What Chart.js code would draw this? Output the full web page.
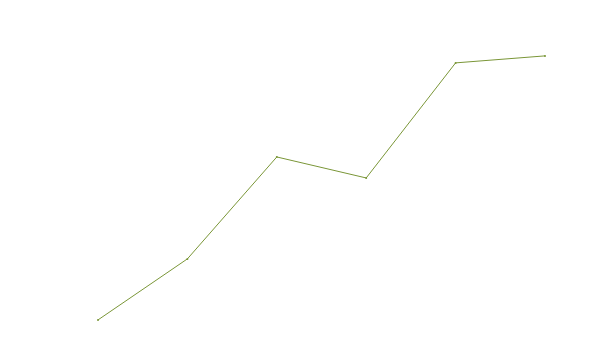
<!DOCTYPE html>
<html>
<head>
<meta charset="utf-8">
<script src="https://cdn.jsdelivr.net/npm/chart.js@4"></script>
<style>
  body { margin: 0; background: #fff; }
  #wrap { width: 600px; height: 350px; }
</style>
</head>
<body>
<div id="wrap"><canvas id="line-chart"></canvas></div>
<script>
/*------------------------ DATA ---------------------------------*/
const categories = ['1', '2', '3', '4', '5', '6']
const values = [3.6, 25.4, 61.8, 54.3, 95.4, 97.9]

/*------------------------ LINE CHART ---------------------------------*/
const lineCanvas = document.querySelector('#line-chart').getContext('2d')

const lineData = {
    labels: categories,
    datasets: [{
        label: 'Series',
        data: values,
        borderColor: 'rgb(122, 150, 55)',
        backgroundColor: 'rgb(122, 150, 55)',
        borderWidth: 1,
        pointRadius: 1,
        pointBorderWidth: 0,
        tension: 0,
        fill: false
    }]
}

const lineOptions = {
    type: 'line',
    data: lineData,
    options: {
        responsive: true,
        maintainAspectRatio: false,
        animation: false,
        layout: {
            padding: { left: 98, right: 55, top: 50, bottom: 20 }
        },
        scales: {
            x: { display: false },
            y: { display: false, min: 0, max: 100 }
        },
        plugins: {
            legend: { display: false },
            tooltip: { enabled: false }
        }
    }
}

const lineChart = new Chart(lineCanvas, lineOptions)
</script>
</body>
</html>
